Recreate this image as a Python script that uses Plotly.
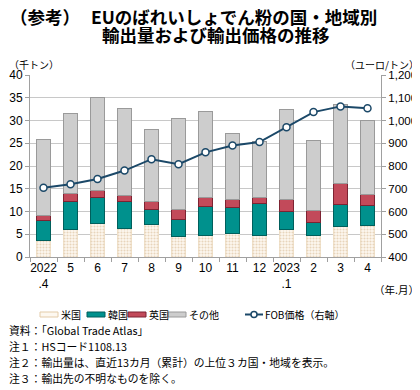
import plotly.graph_objects as go

categories = ["2022<br>.4", "5", "6", "7", "8", "9", "10", "11", "12", "2023<br>.1", "2", "3", "4"]
us = [3.6, 6.0, 7.3, 6.2, 7.1, 4.5, 4.7, 5.1, 4.7, 6.0, 4.7, 6.7, 6.9]
korea = [4.4, 6.2, 5.8, 6.0, 3.4, 3.8, 6.4, 5.7, 7.1, 4.0, 2.8, 4.9, 4.4]
uk = [1.2, 1.8, 1.6, 1.4, 1.6, 2.1, 2.0, 1.9, 1.3, 2.7, 2.7, 4.5, 2.4]
other = [16.6, 17.6, 20.4, 19.0, 16.0, 20.0, 18.9, 14.5, 12.3, 19.7, 15.3, 17.5, 16.3]
fob = [704, 720, 743, 780, 830, 808, 860, 890, 905, 970, 1037, 1062, 1054]
series_names = ["米国", "韓国", "英国", "その他", "FOB価格（右軸）"]

x = list(range(len(categories)))
FONT = "Liberation Sans, Arial, Noto Sans CJK JP, sans-serif"
JFONT = "Noto Sans CJK JP, sans-serif"
LINE = "#1b4868"
US_FILL, US_EDGE = "#fdf8f0", "#e3cba8"
KR_FILL, KR_EDGE = "#00918d", "#005f5c"
UK_FILL, UK_EDGE = "#c24a5a", "#7d2332"
OT_FILL, OT_EDGE = "#cdcdcd", "#9a9a9a"

# page body has an 8px default margin: figure occupies window pixels 8..420 x 8..390
OFF = 8
W, H = 420 - OFF, 390 - OFF
# plot area in window pixel coordinates
L, R, T, B = 30, 381, 75, 257

fig = go.Figure()
fig.add_trace(go.Bar(x=x, y=us, name=series_names[0],
                     marker=dict(color=US_FILL, line=dict(color=US_EDGE, width=0.5),
                                 pattern=dict(shape=".", fgcolor="#d4b088", bgcolor=US_FILL,
                                              size=3, solidity=0.4))))
fig.add_trace(go.Bar(x=x, y=korea, name=series_names[1],
                     marker=dict(color=KR_FILL, line=dict(color=KR_EDGE, width=1))))
fig.add_trace(go.Bar(x=x, y=uk, name=series_names[2],
                     marker=dict(color=UK_FILL, line=dict(color=UK_EDGE, width=1))))
fig.add_trace(go.Bar(x=x, y=other, name=series_names[3],
                     marker=dict(color=OT_FILL, line=dict(color=OT_EDGE, width=1))))
fig.add_trace(go.Scatter(x=x, y=fob, name=series_names[4], yaxis="y2", mode="lines+markers",
                         line=dict(color=LINE, width=2),
                         marker=dict(symbol="circle", size=7, color="#ffffff",
                                     line=dict(color=LINE, width=1.5))))

fig.update_layout(
    width=W, height=H, autosize=False,
    margin=dict(l=L - OFF, r=420 - R, t=T - OFF, b=390 - B, pad=0, autoexpand=False),
    paper_bgcolor="#ffffff", plot_bgcolor="#ffffff",
    barmode="stack", bargap=0.48,
    font=dict(family=FONT, size=12, color="#000000"),
    showlegend=False,
    xaxis=dict(range=[-0.5, 12.5], tickmode="array", tickvals=x, ticktext=categories,
               showgrid=False, zeroline=False, showline=True, linecolor="#a0a0a0", linewidth=1,
               ticks="", tickfont=dict(size=12),
               minor=dict(tickmode="array", tickvals=[i - 0.5 for i in range(14)],
                          ticks="outside", ticklen=4, tickcolor="#a0a0a0", showgrid=False)),
    yaxis=dict(range=[0, 40], dtick=5, showgrid=True, gridcolor="#c8c8c8", gridwidth=1,
               zeroline=False, showline=True, linecolor="#a0a0a0", ticks="outside",
               ticklen=4, tickcolor="#a0a0a0", tickfont=dict(size=12)),
    yaxis2=dict(range=[400, 1200], dtick=100, overlaying="y", side="right",
                tickformat=",", showgrid=False, zeroline=False, showline=True,
                linecolor="#a0a0a0", ticks="outside", ticklen=4, tickcolor="#a0a0a0",
                tickfont=dict(size=11.5)),
)


def px(xp):
    return (xp - L) / (R - L)


def py(yp):
    return (B - yp) / (B - T)


def ann(text, x, y, size, xanchor="left", bold=False):
    fig.add_annotation(text=("<b>%s</b>" % text) if bold else text, x=px(x), y=py(y),
                       xref="paper", yref="paper", xanchor=xanchor, yanchor="middle",
                       showarrow=False, borderpad=0,
                       font=dict(family=JFONT, size=size, color="#000000"))


ann("（参考）", 9, 16.5, 17.5, bold=True)
ann("EUのばれいしょでん粉の国・地域別", 90, 16.5, 17.5, bold=True)
ann("輸出量および輸出価格の推移", 216, 35, 17.5, "center", bold=True)
ann("（千トン）", 8, 64, 10)
ann("（ユーロ/トン）", 420, 64, 10, "right")
ann("（年.月）", 420, 289, 10.5, "right")

# legend (manual, one row)
ly = 314.5
swatches = [(40, US_FILL, US_EDGE), (87, KR_FILL, KR_EDGE), (128, UK_FILL, UK_EDGE),
            (168, OT_FILL, OT_EDGE)]
for (sx, fc, ec), name in zip(swatches, series_names[:4]):
    fig.add_shape(type="rect", xref="paper", yref="paper", x0=px(sx), x1=px(sx + 18),
                  y0=py(ly + 2.5), y1=py(ly - 2.5), fillcolor=fc, line=dict(color=ec, width=1))
    ann(name, sx + 20, ly, 10)
fig.add_shape(type="line", xref="paper", yref="paper", x0=px(245), x1=px(263),
              y0=py(ly), y1=py(ly), line=dict(color=LINE, width=2))
fig.add_shape(type="circle", xref="paper", yref="paper", x0=px(251), x1=px(257),
              y0=py(ly + 3), y1=py(ly - 3), fillcolor="#ffffff", line=dict(color=LINE, width=1.5))
ann(series_names[4], 264, ly, 10)

ann("資料：「Global Trade Atlas」", 8, 330, 10.8)
ann("注１：HSコード1108.13", 8, 346, 10.8)
ann("注２：輸出量は、直近13カ月（累計）の上位３カ国・地域を表示。", 8, 362, 10.8)
ann("注３：輸出先の不明なものを除く。", 8, 378, 10.8)

fig.write_html("out.html")
